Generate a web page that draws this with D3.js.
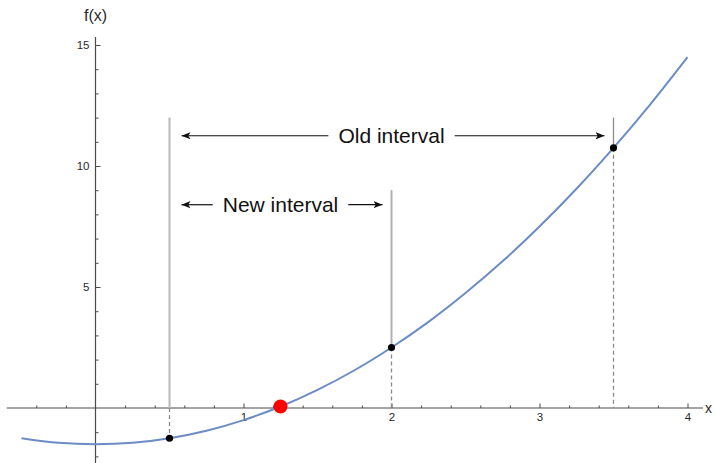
<!DOCTYPE html>
<html>
<head>
<meta charset="utf-8">
<script src="https://cdn.jsdelivr.net/npm/d3@7"></script>
<style>
  html, body { margin: 0; padding: 0; background: #fff; }
  svg { display: block; font-family: "Liberation Sans", Arial, sans-serif; }
</style>
</head>
<body>
<svg id="chart" width="714" height="463"></svg>
<script>
// Sampled curve f(x)
const curveX = [-0.5, -0.25, 0, 0.25, 0.5, 0.75, 1, 1.25, 1.5, 1.75, 2, 2.25, 2.5, 2.75, 3, 3.25, 3.5, 3.75, 4];
const curveY = [-1.25, -1.44, -1.5, -1.44, -1.25, -0.94, -0.5, 0.06, 0.75, 1.56, 2.5, 3.56, 4.75, 6.06, 7.5, 9.06, 10.75, 12.56, 14.5];

// Evaluated points (interval ends and the bisection midpoint)
const pointX = [0.5, 2, 3.5];
const pointY = [-1.25, 2.5, 10.75];
const midX = 1.25;
const midY = 0.06;

// Interval markers
const intervalNames = ["Old interval", "New interval"];
const intervalLo = [0.5, 0.5];
const intervalHi = [3.5, 2];
const intervalTop = [12, 9];
const intervalArrowY = [11.25, 8.4];

// Tick labels
const xTickLabels = [1, 2, 3, 4];
const yTickLabels = [5, 10, 15];

const svg = d3.select("#chart");
const x = d3.scaleLinear().domain([0, 4]).range([95.5, 687.5]);
const y = d3.scaleLinear().domain([0, 15]).range([408, 45]);

const axisColor = "#4a4a4a";
const labelColor = "#2a2a2a";

// Axis lines
svg.append("line")
  .attr("x1", x(-0.6)).attr("x2", x(4.105))
  .attr("y1", y(0)).attr("y2", y(0))
  .attr("stroke", axisColor).attr("stroke-width", 1.2);
svg.append("line")
  .attr("x1", x(0)).attr("x2", x(0))
  .attr("y1", y(15.33)).attr("y2", y(-2.4))
  .attr("stroke", axisColor).attr("stroke-width", 1.2);

// X axis: major and minor ticks pointing up, labels below
const xMinor = d3.range(-0.4, 4.01, 0.2).map(v => +v.toFixed(1)).filter(v => Math.abs(v - Math.round(v)) > 1e-6);
const gxMinor = svg.append("g").attr("transform", `translate(0,${y(0)})`)
  .call(d3.axisBottom(x).tickValues(xMinor).tickSizeInner(-2.5).tickSizeOuter(0).tickFormat(""));
const gx = svg.append("g").attr("transform", `translate(0,${y(0)})`)
  .call(d3.axisBottom(x).tickValues(xTickLabels).tickSizeInner(-4.5).tickSizeOuter(0).tickPadding(5).tickFormat(d3.format("d")));

// Y axis: major and minor ticks pointing right, labels left
const yMinor = d3.range(-2, 15.01, 1).filter(v => v % 5 !== 0);
const gyMinor = svg.append("g").attr("transform", `translate(${x(0)},0)`)
  .call(d3.axisLeft(y).tickValues(yMinor).tickSizeInner(-3).tickSizeOuter(0).tickFormat(""));
const gy = svg.append("g").attr("transform", `translate(${x(0)},0)`)
  .call(d3.axisLeft(y).tickValues(yTickLabels).tickSizeInner(-5).tickSizeOuter(0).tickPadding(6).tickFormat(d3.format("d")));

[gxMinor, gx, gyMinor, gy].forEach(g => {
  g.select(".domain").remove();
  g.selectAll(".tick line").attr("stroke", axisColor).attr("stroke-width", 1);
  g.selectAll(".tick text").attr("fill", labelColor).style("font-size", "11.5px")
    .style("font-family", '"Liberation Sans", Arial, sans-serif');
});

// Axis titles
svg.append("text").attr("x", x(0)).attr("y", 21).attr("text-anchor", "middle")
  .attr("fill", labelColor).style("font-size", "16px").text("f(x)");
svg.append("text").attr("x", 705).attr("y", y(0) + 5).attr("text-anchor", "start")
  .attr("fill", labelColor).style("font-size", "14px").text("x");

// Vertical interval bounds: solid above max(0, f), dashed between 0 and f
const bounds = [
  { xv: intervalLo[0], top: intervalTop[0], f: pointY[0], color: "#b8b8b8", w: 2 },
  { xv: intervalHi[1], top: intervalTop[1], f: pointY[1], color: "#b0b0b0", w: 2 },
  { xv: intervalHi[0], top: intervalTop[0], f: pointY[2], color: "#8c8c8c", w: 1.3 }
];
bounds.forEach(b => {
  svg.append("line")
    .attr("x1", x(b.xv)).attr("x2", x(b.xv))
    .attr("y1", y(b.top)).attr("y2", y(Math.max(0, b.f)))
    .attr("stroke", b.color).attr("stroke-width", b.w);
  svg.append("line")
    .attr("x1", x(b.xv)).attr("x2", x(b.xv))
    .attr("y1", y(Math.max(0, b.f))).attr("y2", y(Math.min(0, b.f)))
    .attr("stroke", "#8a8a8a").attr("stroke-width", 1.3)
    .attr("stroke-dasharray", "4,3");
});

// Curve
const line = d3.line().x(d => x(d[0])).y(d => y(d[1])).curve(d3.curveCatmullRom.alpha(0.5));
svg.append("path")
  .datum(curveX.map((v, i) => [v, curveY[i]]))
  .attr("d", line)
  .attr("fill", "none")
  .attr("stroke", "#6b8cc4")
  .attr("stroke-width", 2);

// Arrowhead marker
const defs = svg.append("defs");
defs.append("marker")
  .attr("id", "arrow").attr("viewBox", "0 0 10 10")
  .attr("refX", 10).attr("refY", 5)
  .attr("markerWidth", 9).attr("markerHeight", 9)
  .attr("markerUnits", "userSpaceOnUse")
  .attr("orient", "auto")
  .append("path").attr("d", "M0,1 L10,5 L0,9 L2.5,5 Z").attr("fill", "#111");

// Interval annotations
intervalNames.forEach((name, i) => {
  const cx = x((intervalLo[i] + intervalHi[i]) / 2);
  const ay = y(intervalArrowY[i]);
  const t = svg.append("text")
    .attr("x", cx).attr("y", ay + 7.5)
    .attr("text-anchor", "middle")
    .attr("fill", "#111")
    .style("font-size", "21px")
    .text(name);
  const w = t.node().getComputedTextLength();
  const gap = 10;
  const leftTip = x(intervalLo[i]) + 12;
  const rightTip = x(intervalHi[i]) - 9;
  svg.append("line")
    .attr("x1", cx - w / 2 - gap).attr("x2", leftTip)
    .attr("y1", ay).attr("y2", ay)
    .attr("stroke", "#111").attr("stroke-width", 1.2)
    .attr("marker-end", "url(#arrow)");
  svg.append("line")
    .attr("x1", cx + w / 2 + gap).attr("x2", rightTip)
    .attr("y1", ay).attr("y2", ay)
    .attr("stroke", "#111").attr("stroke-width", 1.2)
    .attr("marker-end", "url(#arrow)");
});

// Points
svg.selectAll("circle.pt")
  .data(pointX.map((v, i) => [v, pointY[i]]))
  .join("circle").attr("class", "pt")
  .attr("cx", d => x(d[0])).attr("cy", d => y(d[1]))
  .attr("r", 3.6).attr("fill", "#000");

svg.append("circle")
  .attr("cx", x(midX)).attr("cy", y(midY))
  .attr("r", 7).attr("fill", "#ff0000");
</script>
</body>
</html>
